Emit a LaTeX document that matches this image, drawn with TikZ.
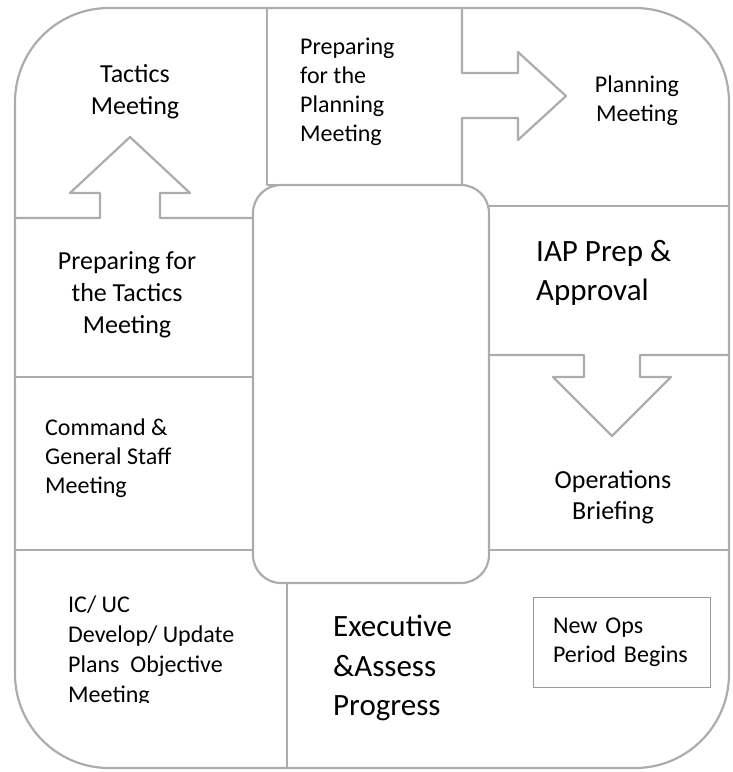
\documentclass[tikz,border=0pt]{standalone}
\usepackage{fontspec}
\setmainfont{Carlito}

\providecommand*{\xLeft}{}
\providecommand*{\xRight}{}
\providecommand*{\yTop}{}
\providecommand*{\yBottom}{}
\renewcommand*{\xLeft}{15}
\renewcommand*{\xRight}{729}
\renewcommand*{\yTop}{8}
\renewcommand*{\yBottom}{768}

\begin{document}
\begin{tikzpicture}[x=1pt,y=-1pt,
    wall/.style={draw=gray!65,line width=2.2pt,line join=round},
    stage/.style={inner sep=0pt,align=center},
    stageleft/.style={inner sep=0pt,align=left,anchor=west},
    small/.style={font=\fontsize{24}{29}\selectfont},
    medium/.style={font=\fontsize{26}{32}\selectfont},
    large/.style={font=\fontsize{31}{39.5}\selectfont}]
  \useasboundingbox (0,0) rectangle (733,772);
  % frames
  \draw [wall,rounded corners=94pt] (\xLeft,\yTop) rectangle (\xRight,\yBottom);
  \draw [wall,rounded corners=28pt] (253,185) rectangle (489,583);
  % top row, arrow to the right
  \draw [wall] (267,\yTop) -- (267,185) -- (462,185);
  \draw [wall] (462,\yTop) -- (462,73) -- (518,73) -- (518,52) -- (566,96)
    -- (518,140) -- (518,118) -- (462,118) -- (462,185);
  \draw [wall] (487,206) -- (\xRight,206);
  % right column, arrow down
  \draw [wall] (489,355) -- (584,355) -- (584,377) -- (553,377) -- (612,436)
    -- (671,377) -- (640,377) -- (640,355) -- (\xRight,355);
  \draw [wall] (489,550) -- (\xRight,550);
  % left column, arrow up
  \draw [wall] (\xLeft,218) -- (100,218) -- (100,193) -- (70,193) -- (130,137)
    -- (190,193) -- (160,193) -- (160,218) -- (253,218);
  \draw [wall] (\xLeft,377) -- (253,377);
  \draw [wall] (\xLeft,550) -- (253,550);
  \draw [wall] (287,583) -- (287,\yBottom);
  % labels
  \node (tactics) [stage,medium] at (135,92) {Tactics\\Meeting};
  \node (preptactics) [stage,medium] at (127,295) {Preparing for\\the Tactics\\Meeting};
  \node (prepplanning) [stageleft,small] at (300,92) {Preparing\\for the\\Planning\\Meeting};
  \node (planning) [stage,small] at (637,101) {Planning\\Meeting};
  \node (iap) [stageleft,large] at (536,273) {IAP Prep \&\\Approval};
  \node (opsbrief) [stage,font=\fontsize{26}{31}\selectfont] at (613,497) {Operations\\Briefing};
  \node (command) [stageleft,small] at (45,458) {Command \&\\General Staff\\Meeting};
  \begin{scope}
    \clip (\xLeft,560) rectangle (287,702.5);
    \node (icuc) [stageleft,font=\fontsize{24}{30}\selectfont] at (68,651)
      {IC/ UC\\Develop/ Update\\Plans~ Objective\\Meeting};
  \end{scope}
  \node (executive) [stageleft,large] at (333,668) {Executive\\\&Assess\\Progress};
  \node (newops) [small,draw=gray!80,thin,align=left,text width=137pt,
    inner xsep=20pt,minimum height=90pt] at (621.5,642) {New Ops\\Period Begins};
\end{tikzpicture}
\end{document}
